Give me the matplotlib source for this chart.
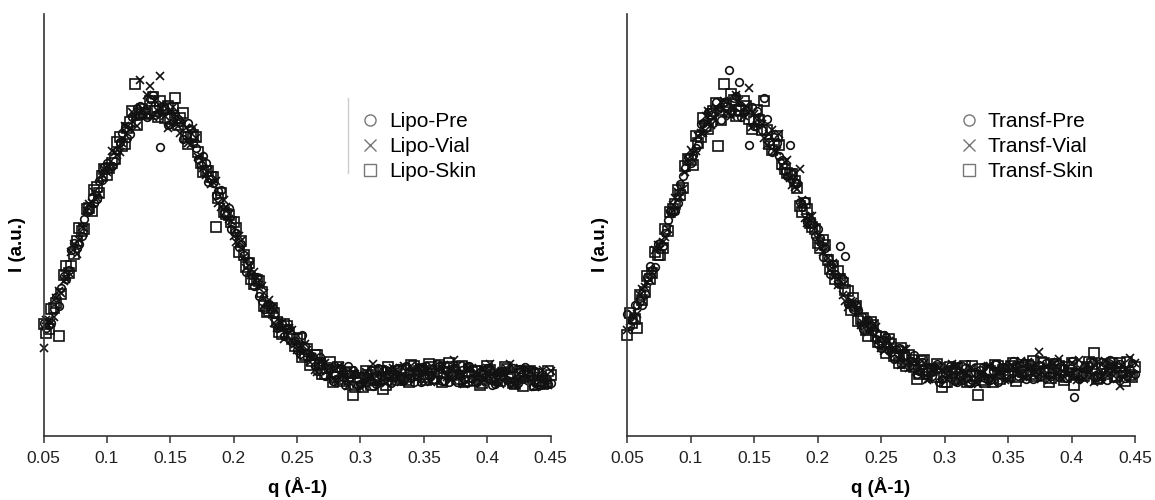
import numpy as np
import matplotlib
matplotlib.use('Agg')
import matplotlib.pyplot as plt
from matplotlib.lines import Line2D

plt.rcParams['font.family'] = ['Liberation Sans', 'DejaVu Sans']

# scattering vector, A^-1 : two interleaved sampling grids
q_a = np.linspace(0.05, 0.45, 101)
q_b = np.linspace(0.052, 0.448, 100)

# intensity, arbitrary units, grid a
lipo_pre = [26.8, 26.2, 30.2, 30.7, 37.9, 39.4, 45.8, 45.5, 51.5, 53.5,
            55.1, 60.5, 63.8, 63.4, 65.1, 69.6, 73.1, 71.6, 75.8, 78.1,
            77.0, 79.9, 76.0, 68.5, 77.6, 74.0, 76.4, 74.3, 71.3, 72.7,
            68.3, 64.2, 64.6, 60.9, 57.1, 58.3, 52.3, 49.0, 48.2, 45.4,
            38.9, 38.5, 37.6, 31.9, 31.0, 30.5, 25.5, 26.5, 25.5, 22.3,
            20.4, 23.9, 18.8, 19.0, 15.4, 17.5, 16.0, 13.0, 16.2, 14.0,
            16.6, 15.7, 12.2, 14.1, 14.6, 11.9, 16.0, 13.3, 13.0, 14.6,
            16.2, 13.2, 15.3, 12.7, 16.2, 15.8, 14.3, 13.6, 16.6, 13.0,
            12.8, 16.0, 14.8, 13.5, 16.6, 12.8, 15.1, 13.9, 15.8, 12.3,
            15.1, 15.3, 12.9, 13.3, 15.9, 16.4, 14.3, 15.4, 12.0, 13.7,
            12.6]
lipo_vial = [20.8, 27.5, 28.1, 34.4, 36.8, 38.6, 45.5, 46.4, 49.4, 54.9,
             57.9, 57.4, 63.3, 63.8, 67.3, 67.4, 73.5, 72.8, 75.8, 84.3,
             76.1, 83.0, 79.4, 85.2, 75.9, 76.8, 76.2, 71.8, 73.1, 69.3,
             70.7, 66.3, 61.9, 59.8, 60.4, 54.2, 54.2, 51.0, 46.0, 46.1,
             39.8, 38.1, 37.4, 35.6, 31.6, 30.3, 25.7, 26.7, 23.9, 25.2,
             20.4, 19.7, 20.4, 18.8, 15.2, 17.8, 15.4, 13.5, 16.4, 14.4,
             11.9, 15.0, 14.4, 12.1, 12.7, 17.0, 12.7, 14.4, 15.7, 16.1,
             13.8, 16.6, 13.5, 15.2, 16.4, 13.0, 16.0, 14.5, 13.2, 16.9,
             13.7, 18.0, 14.8, 12.3, 16.2, 15.0, 12.9, 13.5, 17.1, 15.4,
             12.3, 13.9, 17.0, 12.4, 16.2, 13.4, 15.4, 11.7, 14.1, 12.4,
             15.3]
lipo_skin = [26.6, 25.4, 30.3, 23.6, 38.1, 38.7, 43.2, 49.2, 49.0, 54.1,
             58.2, 57.5, 63.2, 63.6, 65.6, 70.8, 69.2, 74.4, 83.5, 76.5,
             76.3, 79.3, 77.1, 79.4, 75.4, 75.2, 80.2, 75.3, 70.8, 70.9,
             70.9, 64.6, 62.8, 61.4, 49.5, 57.6, 52.5, 50.8, 49.3, 46.2,
             40.1, 37.3, 37.0, 34.2, 29.3, 30.4, 27.0, 24.2, 26.1, 23.1,
             22.9, 18.8, 20.5, 17.7, 19.2, 14.7, 16.2, 12.8, 16.3, 13.4,
             14.3, 9.7, 12.5, 11.5, 14.4, 15.2, 13.2, 11.2, 16.3, 14.1,
             13.2, 15.7, 12.7, 16.5, 15.4, 14.0, 17.0, 13.5, 16.8, 16.1,
             17.2, 15.3, 16.4, 12.9, 14.0, 15.5, 12.1, 15.2, 15.7, 13.5,
             13.0, 16.3, 14.0, 12.3, 15.5, 14.2, 15.4, 12.0, 13.0, 12.5,
             14.4]

# grid b
lipo_pre_b = [25.5, 26.8, 32.9, 35.1, 37.1, 44.1, 44.5, 47.5, 53.0, 56.6,
              56.1, 60.7, 64.8, 63.9, 67.6, 71.7, 70.7, 75.7, 77.8, 76.0,
              75.5, 80.7, 76.6, 78.3, 73.7, 74.5, 75.1, 70.3, 74.1, 69.5,
              65.7, 66.4, 60.3, 59.9, 58.1, 52.8, 54.0, 48.3, 44.7, 42.9,
              41.4, 35.6, 33.1, 30.1, 31.3, 29.0, 25.9, 23.8, 25.6, 22.5,
              19.4, 21.4, 18.9, 16.6, 18.8, 14.3, 16.0, 14.4, 16.0, 12.2,
              14.8, 14.8, 12.4, 12.8, 15.6, 12.4, 14.3, 15.6, 12.5, 14.5,
              13.7, 16.6, 13.7, 15.4, 12.9, 16.5, 14.4, 17.1, 13.1, 15.7,
              14.4, 12.7, 15.7, 16.5, 13.7, 12.9, 15.0, 16.0, 12.1, 14.5,
              15.5, 13.2, 16.2, 12.5, 13.6, 15.0, 11.9, 15.2, 14.0, 12.3]
lipo_vial_b = [27.4, 26.7, 32.7, 34.0, 37.2, 43.6, 43.2, 49.5, 53.3, 55.1,
               56.5, 62.1, 62.5, 67.6, 66.6, 69.4, 73.3, 76.7, 73.5, 77.5,
               80.7, 75.6, 77.1, 78.4, 73.1, 77.9, 73.5, 73.9, 69.5, 72.9,
               66.1, 63.4, 62.9, 60.1, 55.2, 56.0, 51.4, 47.3, 47.5, 42.5,
               40.6, 38.9, 35.8, 33.9, 32.2, 26.7, 27.2, 22.9, 25.5, 21.7,
               21.6, 21.9, 17.6, 15.6, 17.5, 17.4, 14.7, 13.1, 16.7, 14.0,
               12.6, 14.7, 11.5, 15.2, 14.1, 12.8, 15.9, 12.6, 13.9, 15.7,
               12.7, 15.5, 16.7, 13.4, 14.5, 16.1, 12.7, 15.8, 16.2, 14.0,
               13.5, 16.7, 14.5, 12.7, 16.0, 14.6, 12.9, 16.2, 13.6, 13.2,
               15.1, 15.8, 12.1, 14.6, 13.1, 15.7, 12.6, 13.4, 15.7, 12.0]
lipo_skin_b = [24.3, 30.0, 31.5, 33.6, 40.3, 40.2, 46.1, 48.5, 53.7, 53.4,
               59.1, 61.7, 61.8, 64.6, 69.7, 68.8, 73.0, 77.1, 73.6, 77.5,
               76.5, 80.4, 75.6, 77.5, 78.3, 77.8, 73.6, 76.6, 69.1, 71.3,
               67.2, 62.6, 62.8, 61.3, 56.3, 53.1, 52.4, 50.6, 43.6, 42.8,
               41.0, 36.1, 36.7, 30.7, 29.7, 29.2, 24.6, 26.5, 24.1, 21.3,
               23.2, 19.3, 16.9, 19.2, 17.2, 14.8, 17.6, 13.9, 13.1, 15.0,
               15.1, 11.6, 13.7, 15.4, 12.2, 13.6, 15.4, 12.1, 14.9, 15.5,
               13.7, 13.2, 16.9, 14.5, 15.9, 13.3, 16.3, 15.3, 12.8, 16.4,
               14.4, 13.4, 16.5, 13.1, 15.1, 15.4, 12.6, 16.5, 13.7, 13.2,
               14.5, 15.9, 12.6, 14.6, 11.8, 15.2, 14.7, 13.1, 12.4, 15.4]

transf_pre = [28.8, 27.6, 31.0, 31.1, 37.7, 39.4, 45.6, 45.1, 51.1, 53.3,
              55.1, 61.7, 66.2, 66.7, 69.0, 74.1, 76.7, 74.1, 77.5, 79.2,
              86.8, 80.2, 84.0, 76.7, 69.0, 73.5, 75.5, 80.0, 69.7, 70.9,
              66.3, 62.8, 69.0, 60.0, 55.4, 55.8, 50.2, 47.3, 46.9, 44.5,
              38.4, 38.4, 45.0, 42.7, 31.5, 31.0, 26.2, 27.4, 26.4, 23.0,
              20.9, 23.5, 20.0, 20.5, 17.1, 19.3, 17.7, 14.6, 17.6, 15.3,
              14.1, 17.0, 13.5, 15.4, 15.6, 12.7, 16.7, 13.8, 13.3, 14.8,
              16.3, 13.2, 15.4, 12.8, 16.4, 16.1, 17.8, 14.1, 17.3, 15.4,
              13.6, 16.9, 15.7, 14.5, 17.6, 13.9, 16.2, 15.1, 9.3, 13.5,
              16.4, 16.6, 14.3, 14.7, 17.4, 18.0, 15.9, 17.1, 13.8, 15.6,
              14.6]
transf_vial = [25.2, 28.9, 28.9, 34.8, 36.6, 38.6, 45.3, 46.0, 49.0, 54.7,
               57.9, 58.6, 65.7, 67.1, 71.2, 71.9, 77.1, 75.3, 77.5, 79.3,
               76.6, 78.0, 79.5, 75.8, 82.5, 76.3, 75.3, 70.5, 71.5, 67.5,
               71.5, 64.9, 61.1, 58.9, 63.2, 51.7, 52.1, 49.3, 44.7, 45.2,
               39.3, 38.0, 37.7, 31.9, 32.1, 30.8, 26.4, 27.6, 24.8, 25.9,
               20.9, 20.6, 21.6, 20.3, 16.9, 20.5, 17.1, 15.1, 17.8, 13.2,
               15.9, 16.3, 15.7, 13.4, 17.1, 16.8, 13.4, 14.9, 16.0, 12.3,
               13.9, 16.6, 13.6, 15.3, 16.6, 13.3, 16.4, 15.0, 13.9, 17.6,
               14.5, 19.8, 15.7, 13.3, 17.2, 18.3, 14.0, 14.7, 14.9, 18.0,
               13.6, 15.2, 12.8, 13.8, 17.7, 14.9, 17.0, 11.9, 15.9, 18.4,
               17.3]
transf_skin = [24.0, 26.8, 25.5, 32.3, 37.9, 38.7, 43.0, 44.5, 48.6, 53.9,
               58.2, 58.7, 65.6, 64.1, 69.5, 75.3, 72.8, 76.9, 68.8, 83.3,
               76.8, 79.6, 77.2, 79.3, 75.1, 74.7, 74.8, 79.3, 69.2, 69.1,
               68.9, 63.2, 62.0, 60.5, 54.4, 55.1, 50.4, 49.1, 44.6, 45.3,
               39.6, 37.2, 37.3, 34.7, 29.8, 30.9, 27.7, 25.1, 27.0, 23.8,
               23.4, 19.7, 21.7, 19.2, 20.9, 16.5, 17.9, 13.5, 17.7, 14.7,
               15.6, 17.0, 11.5, 12.8, 15.4, 16.0, 13.9, 12.7, 16.6, 9.6,
               13.3, 15.7, 12.8, 16.6, 15.6, 14.3, 17.4, 14.0, 15.2, 16.8,
               17.8, 16.2, 17.3, 12.8, 15.0, 16.6, 13.2, 16.4, 12.2, 14.7,
               14.3, 17.6, 19.6, 13.7, 17.0, 15.7, 14.0, 17.4, 13.0, 14.4,
               16.4]

transf_pre_b = [26.0, 31.1, 32.1, 33.7, 40.2, 40.1, 45.8, 48.1, 53.4, 53.3,
                59.7, 63.5, 64.7, 68.2, 73.9, 72.9, 76.1, 79.2, 75.0, 78.3,
                76.9, 80.6, 75.6, 77.3, 77.9, 77.1, 72.5, 75.2, 67.4, 69.4,
                65.5, 61.5, 62.0, 60.0, 54.2, 50.8, 50.5, 49.1, 42.5, 42.1,
                40.7, 36.2, 37.1, 31.2, 30.2, 29.8, 25.4, 27.4, 24.9, 21.9,
                23.9, 20.3, 18.3, 20.8, 18.9, 16.6, 19.3, 15.4, 14.4, 16.3,
                16.4, 12.9, 15.0, 16.5, 13.1, 14.3, 16.0, 12.5, 15.2, 15.7,
                13.8, 13.2, 17.0, 14.6, 16.2, 13.7, 16.7, 15.9, 13.5, 17.1,
                15.2, 14.3, 17.4, 14.1, 16.1, 16.5, 13.7, 17.7, 14.9, 14.4,
                15.8, 17.2, 14.0, 16.0, 13.3, 16.7, 16.3, 14.8, 14.2, 17.3]
transf_vial_b = [27.2, 27.9, 33.5, 35.2, 37.0, 44.0, 44.2, 47.1, 52.7, 56.5,
                 56.7, 62.5, 67.7, 67.5, 71.8, 75.8, 73.8, 77.8, 79.2, 76.8,
                 75.9, 80.9, 76.6, 78.1, 73.3, 73.8, 74.0, 68.9, 72.4, 67.6,
                 64.0, 65.3, 59.5, 58.6, 56.0, 50.5, 52.1, 46.8, 43.6, 42.2,
                 41.1, 35.7, 33.5, 30.6, 31.8, 29.6, 26.7, 24.7, 26.4, 23.1,
                 20.1, 22.4, 20.3, 18.2, 20.5, 16.1, 17.7, 15.9, 17.3, 13.5,
                 16.1, 16.1, 13.7, 13.9, 16.5, 13.1, 14.9, 16.0, 12.8, 14.7,
                 13.8, 16.6, 13.8, 15.5, 13.2, 16.9, 14.8, 17.7, 13.8, 16.4,
                 15.2, 13.6, 16.6, 17.5, 14.7, 14.0, 16.1, 17.2, 13.3, 15.7,
                 16.8, 14.5, 17.6, 13.9, 15.1, 16.5, 13.5, 16.9, 15.8, 14.2]
transf_skin_b = [29.1, 27.8, 33.3, 34.1, 37.1, 43.5, 42.9, 49.1, 53.0, 55.0,
                 57.1, 63.9, 65.4, 71.2, 70.8, 73.5, 76.4, 78.8, 74.9, 78.3,
                 81.1, 75.8, 77.1, 78.2, 72.7, 77.2, 72.4, 72.5, 67.8, 71.0,
                 64.4, 62.3, 62.1, 58.8, 53.1, 53.7, 49.5, 45.8, 46.4, 41.8,
                 40.3, 39.0, 36.2, 34.4, 32.7, 27.3, 28.0, 23.8, 26.3, 22.3,
                 22.3, 22.9, 19.0, 17.2, 19.2, 19.2, 16.4, 14.6, 18.0, 15.3,
                 13.9, 16.0, 12.8, 16.3, 15.0, 13.5, 16.5, 13.0, 14.2, 15.9,
                 12.8, 15.5, 16.8, 13.5, 14.8, 16.5, 13.1, 16.4, 16.9, 14.7,
                 14.3, 17.6, 15.4, 13.7, 17.0, 15.7, 14.0, 17.4, 14.8, 14.4,
                 16.4, 17.1, 13.5, 16.0, 14.6, 17.2, 14.2, 15.1, 17.5, 13.9]

panels = [
    (['Lipo-Pre', 'Lipo-Vial', 'Lipo-Skin'],
     [(lipo_pre, lipo_pre_b), (lipo_vial, lipo_vial_b), (lipo_skin, lipo_skin_b)]),
    (['Transf-Pre', 'Transf-Vial', 'Transf-Skin'],
     [(transf_pre, transf_pre_b), (transf_vial, transf_vial_b), (transf_skin, transf_skin_b)]),
]
markers = ['o', 'x', 's']
msizes = [5.5, 6, 6.5]

fig = plt.figure(figsize=(11.55, 5), dpi=100)
ax1 = fig.add_axes([0.0377, 0.128, 0.439, 0.844])
ax2 = fig.add_axes([0.5429, 0.128, 0.4398, 0.844])

leg_x = [0.6235, 0.653]
qq = np.concatenate([q_a, q_b])

for i, (ax, (labels, series)) in enumerate(zip([ax1, ax2], panels)):
    for (ya, yb), m, ms in zip(series, markers, msizes):
        y = np.concatenate([ya, yb])
        ax.plot(qq, y, ls='None', marker=m, ms=ms, mfc='none', mec='#111111',
                mew=1.2, clip_on=False)

    ax.set_xlim(0.05, 0.45)
    ax.set_ylim(0, 100)
    ax.set_xticks([0.05, 0.1, 0.15, 0.2, 0.25, 0.3, 0.35, 0.4, 0.45])
    ax.set_xticklabels(['0.05', '0.1', '0.15', '0.2', '0.25', '0.3', '0.35', '0.4', '0.45'])
    ax.set_yticks([])
    for s in ['top', 'right']:
        ax.spines[s].set_visible(False)
    for s in ['left', 'bottom']:
        ax.spines[s].set_color('#333333')
        ax.spines[s].set_linewidth(1.2)
    ax.tick_params(axis='x', direction='out', length=5, width=1.1, color='#333333',
                   labelsize=12.5, labelcolor='#222222', pad=6)

    ax.set_xlabel('q (Å-1)', fontsize=13.5, fontweight='bold', va='center')
    ax.xaxis.set_label_coords(0.5, -0.121)
    ax.set_ylabel('I (a.u.)', fontsize=13.5, fontweight='bold', va='center')
    ax.yaxis.set_label_coords(-0.052, 0.453)

    handles = [Line2D([], [], ls='None', marker=m, ms=8, mfc='none', mec='#777777', mew=1.0)
               for m in markers]
    ax.legend(handles, labels, loc='upper left', bbox_to_anchor=(leg_x[i], 0.768),
              frameon=False, fontsize=15, handlelength=1.0, handletextpad=0.4,
              labelspacing=0.29, borderpad=0, borderaxespad=0)

# faint left edge of the legend box in the first panel
ax1.plot([0.6006, 0.6006], [0.623, 0.801], transform=ax1.transAxes,
         color='#cccccc', lw=1, clip_on=False)

fig.savefig('out.png', dpi=100)
